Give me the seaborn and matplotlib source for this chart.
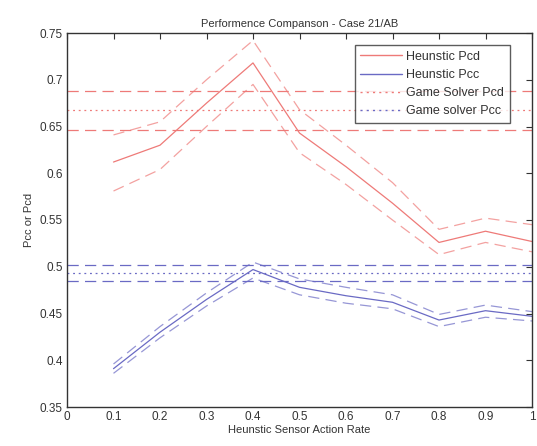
import matplotlib
matplotlib.use("Agg")
import matplotlib.pyplot as plt
import seaborn as sns
import numpy as np
import pandas as pd

# ---- data ----
rate = [0.1, 0.2, 0.3, 0.4, 0.5, 0.6, 0.7, 0.8, 0.9, 1.0]
heur_pcd = [0.612, 0.630, 0.675, 0.718, 0.643, 0.607, 0.568, 0.526, 0.538, 0.527]
heur_pcd_hi = [0.641, 0.655, 0.700, 0.742, 0.668, 0.630, 0.590, 0.540, 0.552, 0.545]
heur_pcd_lo = [0.581, 0.604, 0.650, 0.695, 0.622, 0.588, 0.550, 0.513, 0.526, 0.516]
heur_pcc = [0.391, 0.430, 0.465, 0.497, 0.478, 0.469, 0.462, 0.443, 0.453, 0.447]
heur_pcc_hi = [0.396, 0.436, 0.472, 0.505, 0.487, 0.478, 0.470, 0.449, 0.459, 0.452]
heur_pcc_lo = [0.386, 0.424, 0.458, 0.488, 0.470, 0.461, 0.455, 0.436, 0.446, 0.442]
game_pcd = [0.646, 0.668, 0.688]   # lo, mean, hi
game_pcc = [0.485, 0.493, 0.502]   # lo, mean, hi

title = "Performence Companson - Case 21/AB"
xlabel = "Heunstic Sensor Action Rate"
ylabel = "Pcc or Pcd"
legend_labels = ["Heunstic Pcd", "Heunstic Pcc", "Game Solver Pcd", "Game solver Pcc"]
xticks = [0, 0.1, 0.2, 0.3, 0.4, 0.5, 0.6, 0.7, 0.8, 0.9, 1.0]
xticklabels = ["0", "0.1", "0.2", "0.3", "0.4", "0.5", "0.6", "0.7", "0.8", "0.9", "1"]
yticks = [0.35, 0.4, 0.45, 0.5, 0.55, 0.6, 0.65, 0.7, 0.75]
yticklabels = ["0.35", "0.4", "0.45", "0.5", "0.55", "0.6", "0.65", "0.7", "0.75"]

sns.set_theme(style="white")
plt.rcParams['font.family'] = ['Liberation Sans', 'DejaVu Sans']

RED = "#ee7a78"
BLUE = "#6a6ac4"

fig = plt.figure(figsize=(5.37, 4.46), dpi=100)
ax = fig.add_axes([67/537, 1-407/446, (532-67)/537, (407-33)/446])

dash = (0, (9, 5))
dot = (0, (1.5, 3))
lw = 0.9
sns.lineplot(x=rate, y=heur_pcd, ax=ax, color=RED, lw=lw)
sns.lineplot(x=rate, y=heur_pcd_hi, ax=ax, color=RED, lw=lw, alpha=0.7, linestyle=dash)
sns.lineplot(x=rate, y=heur_pcd_lo, ax=ax, color=RED, lw=lw, alpha=0.7, linestyle=dash)
sns.lineplot(x=rate, y=heur_pcc, ax=ax, color=BLUE, lw=lw)
sns.lineplot(x=rate, y=heur_pcc_hi, ax=ax, color=BLUE, lw=lw, alpha=0.7, linestyle=dash)
sns.lineplot(x=rate, y=heur_pcc_lo, ax=ax, color=BLUE, lw=lw, alpha=0.7, linestyle=dash)

ax.axhline(game_pcd[0], color=RED, lw=lw, linestyle=dash)
ax.axhline(game_pcd[1], color=RED, lw=lw, linestyle=dot)
ax.axhline(game_pcd[2], color=RED, lw=lw, linestyle=dash)
ax.axhline(game_pcc[0], color=BLUE, lw=lw, linestyle=dash)
ax.axhline(game_pcc[1], color=BLUE, lw=lw, linestyle=dot)
ax.axhline(game_pcc[2], color=BLUE, lw=lw, linestyle=dash)

ax.set_xlim(0, 1)
ax.set_ylim(0.35, 0.75)
ax.set_xticks(xticks)
ax.set_xticklabels(xticklabels)
ax.set_yticks(yticks)
ax.set_yticklabels(yticklabels)
ax.tick_params(direction="in", length=4, width=0.8, top=True, right=True,
               labelsize=8.5, colors="#333333", pad=3)
for s in ax.spines.values():
    s.set_color("#333333")
    s.set_linewidth(1.0)

ax.set_title(title, fontsize=8, color="#333333", pad=4)
ax.set_xlabel(xlabel, fontsize=8, color="#333333", labelpad=1)
ax.set_ylabel(ylabel, fontsize=8, color="#333333", labelpad=4)

from matplotlib.lines import Line2D
handles = [Line2D([], [], color=RED, lw=1),
           Line2D([], [], color=BLUE, lw=1),
           Line2D([], [], color=RED, lw=1, linestyle=dot),
           Line2D([], [], color=BLUE, lw=1, linestyle=dot)]
leg = ax.legend(handles, legend_labels, loc="upper right",
                bbox_to_anchor=((510-67)/465, (407-45)/374),
                fontsize=9, frameon=True, fancybox=False, handlelength=3.3,
                borderpad=0.45, labelspacing=0.5, handletextpad=0.4, borderaxespad=0)
leg.get_frame().set_edgecolor("#333333")
leg.get_frame().set_linewidth(1.0)
for t in leg.get_texts():
    t.set_color("#333333")

fig.savefig("out.png", dpi=100)
